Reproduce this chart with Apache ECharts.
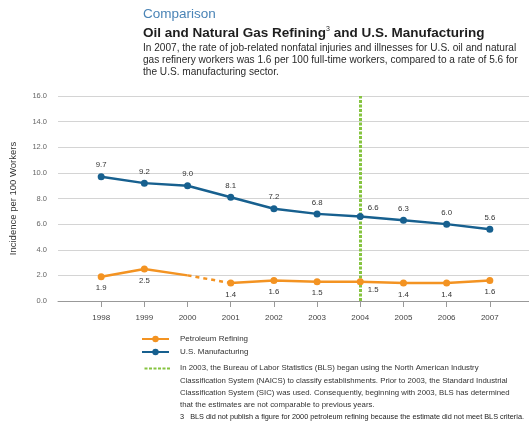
<!DOCTYPE html>
<html>
<head>
<meta charset="utf-8">
<script src="https://cdn.jsdelivr.net/npm/echarts@6/dist/echarts.min.js"></script>
<style>
html,body{margin:0;padding:0;background:#fff;overflow:hidden;}
#chart{width:529px;height:424px;}
</style>
</head>
<body>
<div id="chart"></div>
<script>
// ---- data ----
var years = ['1998','1999','2000','2001','2002','2003','2004','2005','2006','2007'];
var petroleum = [1.9, 2.5, null, 1.4, 1.6, 1.5, 1.5, 1.4, 1.4, 1.6];
var manufacturing = [9.7, 9.2, 9.0, 8.1, 7.2, 6.8, 6.6, 6.3, 6.0, 5.6];
// line drawn through 2000 where no petroleum figure was published
var petroleumGapSolid = [null, 2.5, 2.0, null, null, null, null, null, null, null];
var petroleumGapDashed = [null, null, 2.0, 1.4, null, null, null, null, null, null];
var yTicks = [0, 2, 4, 6, 8, 10, 12, 14, 16];
var changeYear = '2004';

var FONT = 'Liberation Sans, Arial, sans-serif';
var ORANGE = '#f39322';
var BLUE = '#17608f';
var GREEN = '#86c440';

function pad(arr){ return [null].concat(arr, [null]); }
var cats = [''].concat(years, ['']);

function withShiftedLabel(arr, dy){
  return pad(arr).map(function(v, i){
    if (cats[i] === changeYear && v != null) {
      return {value: v, label: {position: 'right', offset: [0, dy]}};
    }
    return v;
  });
}

var chart = echarts.init(document.getElementById('chart'), null, {renderer: 'canvas'});
var option = {
  animation: false,
  textStyle: {fontFamily: FONT},
  title: [
    {text: 'Comparison', left: 143, top: 7, padding: 0,
     textStyle: {fontSize: 13.5, fontWeight: 'normal', color: '#4a84b6', fontFamily: FONT}},
    {text: 'Oil and Natural Gas Refining{sup|3} and U.S. Manufacturing', left: 143, top: 26, padding: 0,
     textStyle: {fontSize: 13.5, fontWeight: 'bold', color: '#1e1e1e', fontFamily: FONT,
       rich: {sup: {fontSize: 7, fontWeight: 'normal', verticalAlign: 'top', color: '#1e1e1e', padding: [0,0,6,0]}}}},
    {text: 'In 2007, the rate of job-related nonfatal injuries and illnesses for U.S. oil and natural\ngas refinery workers was 1.6 per 100 full-time workers, compared to a rate of 5.6 for\nthe U.S. manufacturing sector.',
     left: 143, top: 42, padding: 0,
     textStyle: {fontSize: 10.1, fontWeight: 'normal', color: '#2a2a2a', lineHeight: 12, fontFamily: FONT}}
  ],
  legend: {
    orient: 'vertical', left: 136, top: 330, itemWidth: 27, itemHeight: 8, itemGap: 5,
    data: ['Petroleum Refining', 'U.S. Manufacturing'],
    textStyle: {fontSize: 8, color: '#333', fontFamily: FONT, padding: [0,0,0,6]}
  },
  grid: {left: 58, width: 475, top: 96, bottom: 123, containLabel: false, outerBoundsMode: 'none'},
  xAxis: {
    type: 'category', data: cats, boundaryGap: false,
    axisLine: {lineStyle: {color: '#999', width: 1}},
    axisTick: {show: true, length: 6, lineStyle: {color: '#999'},
      interval: function(i){ return i >= 1 && i <= years.length; }},
    axisLabel: {fontSize: 8, color: '#444', margin: 13, interval: 0},
    splitLine: {show: false}
  },
  yAxis: {
    type: 'value', min: yTicks[0], max: yTicks[yTicks.length-1], interval: yTicks[1]-yTicks[0],
    name: 'Incidence per 100 Workers', nameLocation: 'middle', nameGap: 40, nameRotate: 90,
    nameTextStyle: {fontSize: 9.5, color: '#333', fontFamily: FONT},
    axisLine: {show: false}, axisTick: {show: false},
    axisLabel: {fontSize: 7.5, color: '#666', margin: 11, formatter: function(v){ return v.toFixed(1); }},
    splitLine: {lineStyle: {color: '#d4d4d4', width: 1}}
  },
  series: [
    {
      name: 'changeMarker', type: 'line', data: [], silent: true, z: 1,
      markLine: {
        silent: true, symbol: 'none', label: {show: false}, z: 1,
        lineStyle: {color: GREEN, width: 3, type: [3, 1.5]},
        data: [{xAxis: changeYear}]
      }
    },
    {
      name: 'Petroleum Refining', type: 'line', data: withShiftedLabel(petroleum, 8),
      connectNulls: false, symbol: 'circle', symbolSize: 7,
      lineStyle: {color: ORANGE, width: 2.5}, itemStyle: {color: ORANGE},
      label: {show: true, position: 'bottom', distance: 4, fontSize: 7.8, color: '#333',
        formatter: function(p){ return p.value == null ? '' : Number(p.value).toFixed(1); }},
      z: 3
    },
    {
      name: 'gapSolid', type: 'line', data: pad(petroleumGapSolid), showSymbol: false, symbol: 'none',
      lineStyle: {color: ORANGE, width: 2.5}, silent: true, z: 2
    },
    {
      name: 'gapDashed', type: 'line', data: pad(petroleumGapDashed), showSymbol: false, symbol: 'none',
      lineStyle: {color: ORANGE, width: 2.5, type: [4, 4]}, silent: true, z: 2
    },
    {
      name: 'U.S. Manufacturing', type: 'line', data: withShiftedLabel(manufacturing, -9),
      symbol: 'circle', symbolSize: 7,
      lineStyle: {color: BLUE, width: 2.5}, itemStyle: {color: BLUE},
      label: {show: true, position: 'top', distance: 4, fontSize: 7.8, color: '#333',
        formatter: function(p){ return p.value == null ? '' : Number(p.value).toFixed(1); }},
      z: 3
    }
  ],
  graphic: [
    {type: 'line', left: 142, top: 366, shape: {x1: 0, y1: 0, x2: 26, y2: 0},
     style: {stroke: GREEN, lineWidth: 2, lineDash: [3, 1.5]}},
    {type: 'text', left: 180, top: 362,
     style: {text: 'In 2003, the Bureau of Labor Statistics (BLS) began using the North American Industry\nClassification System (NAICS) to classify establishments. Prior to 2003, the Standard Industrial\nClassification System (SIC) was used. Consequently, beginning with 2003, BLS has determined\nthat the estimates are not comparable to previous years.',
       font: '7.8px ' + FONT, fill: '#333', lineHeight: 12.3}},
    {type: 'text', left: 180, top: 413,
     style: {text: '3   BLS did not publish a figure for 2000 petroleum refining because the estimate did not meet BLS criteria.',
       font: '7.3px ' + FONT, fill: '#222'}}
  ]
};
chart.setOption(option);
</script>
</body>
</html>
